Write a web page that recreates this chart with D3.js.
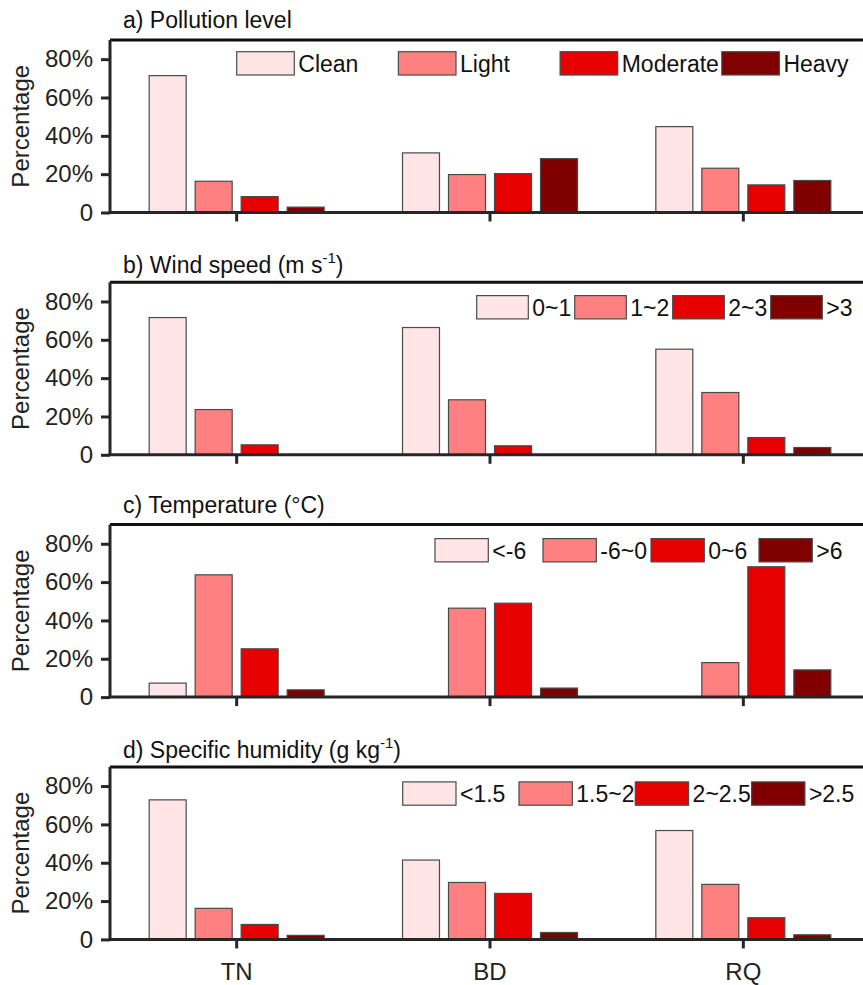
<!DOCTYPE html>
<html>
<head>
<meta charset="utf-8">
<script src="https://cdn.jsdelivr.net/npm/d3@7.9.0/dist/d3.min.js"></script>
<style>
  body { margin: 0; background: #fff; }
  svg { display: block; font-family: "Liberation Sans", Arial, Helvetica, sans-serif; }
</style>
</head>
<body>
<div id="chart"></div>
<script>
// stations on the x axis
const categories = ["TN", "BD", "RQ"];

// panel titles (superscript part kept apart)
const titles = [
  { text: "a) Pollution level", sup: null, tail: "" },
  { text: "b) Wind speed (m s", sup: "-1", tail: ")" },
  { text: "c) Temperature (\u00B0C)", sup: null, tail: "" },
  { text: "d) Specific humidity (g kg", sup: "-1", tail: ")" }
];

const pollutionLabels = ["Clean", "Light", "Moderate", "Heavy"];
const windLabels = ["0~1", "1~2", "2~3", ">3"];
const tempLabels = ["<-6", "-6~0", "0~6", ">6"];
const humidLabels = ["<1.5", "1.5~2", "2~2.5", ">2.5"];

// percentages, one row per station (TN, BD, RQ)
const pollution = [
  [71.4, 16.3, 8.3, 2.8],
  [31.1, 19.8, 20.3, 28.1],
  [44.8, 23.1, 14.4, 16.7]
];
const wind = [
  [71.6, 23.6, 5.2, 0],
  [66.4, 28.7, 4.7, 0],
  [55.1, 32.5, 9.0, 3.8]
];
const temperature = [
  [7.3, 63.8, 25.2, 3.8],
  [0, 46.4, 49.0, 4.7],
  [0, 18.0, 68.0, 14.2]
];
const humidity = [
  [72.8, 16.2, 7.8, 2.1],
  [41.4, 29.7, 24.0, 3.6],
  [56.8, 28.7, 11.3, 2.4]
];

const yTicks = [0, 20, 40, 60, 80];

const panels = [
  { title: titles[0], labels: pollutionLabels, values: pollution },
  { title: titles[1], labels: windLabels, values: wind },
  { title: titles[2], labels: tempLabels, values: temperature },
  { title: titles[3], labels: humidLabels, values: humidity }
];

const colors = ["#FFE5E5", "#FF8080", "#E60000", "#800000"];

const width = 863, height = 985;
const left = 110, right = 870;
const panelTop0 = 40, panelStep = 242.3, panelH = 172.5;
const axisColor = "#262626";
const fontSize = 23;

// legend placement per panel
const legendLeft = [236.7, 476.7, 435, 402.7];
const legendBoxW = [57.6, 51.6, 53.3, 53.3];
const legendStep = [161.7, 98, 108, 116.3];
const legendTop = [11.7, 13.3, 14, 15];
const legendBoxH = 23.3;
const titleGap = [12, 9, 12, 8.5];

const svg = d3.select("#chart").append("svg")
  .attr("width", width)
  .attr("height", height)
  .attr("viewBox", `0 0 ${width} ${height}`);

svg.append("rect").attr("width", width).attr("height", height).attr("fill", "#fff");

const xScale = d3.scaleBand().domain(categories).range([left, right]);
const subScale = d3.scaleBand()
  .domain(d3.range(4))
  .range([-92, 92])
  .paddingInner(0.196)
  .paddingOuter(0.098);

panels.forEach((p, i) => {
  const top = panelTop0 + i * panelStep;
  const bottom = top + panelH;
  const yScale = d3.scaleLinear().domain([0, 90]).range([bottom, top]);
  const g = svg.append("g");

  // bars
  const groups = g.append("g").selectAll("g")
    .data(categories)
    .join("g")
    .attr("transform", (d) => `translate(${xScale(d) + xScale.bandwidth() / 2},0)`);

  groups.selectAll("rect")
    .data((d, k) => p.values[k].map((v, s) => ({ v, s })).filter((e) => e.v > 0))
    .join("rect")
    .attr("x", (e) => subScale(e.s))
    .attr("width", subScale.bandwidth())
    .attr("y", (e) => yScale(e.v))
    .attr("height", (e) => yScale(0) - yScale(e.v))
    .attr("fill", (e) => colors[e.s])
    .attr("stroke", "#4a4a4a")
    .attr("stroke-width", 1.2);

  // box top / right
  g.append("path")
    .attr("d", `M${left},${top}H${right}V${bottom}`)
    .attr("fill", "none")
    .attr("stroke", "#111")
    .attr("stroke-width", 3);

  // y axis
  const yAxis = g.append("g")
    .attr("transform", `translate(${left},0)`)
    .call(d3.axisLeft(yScale).tickValues(yTicks).tickSize(9).tickSizeOuter(0).tickPadding(8)
      .tickFormat((d) => d === 0 ? "0" : d + "%"));

  // x axis
  const xAxis = g.append("g")
    .attr("transform", `translate(0,${bottom})`)
    .call(d3.axisBottom(xScale).tickSize(9).tickSizeOuter(0)
      .tickFormat(i === panels.length - 1 ? (d) => d : () => ""));

  [yAxis, xAxis].forEach((a) => {
    a.select(".domain").attr("stroke", axisColor).attr("stroke-width", 3);
    a.selectAll(".tick line").attr("stroke", axisColor).attr("stroke-width", 3);
    a.selectAll(".tick text").attr("fill", "#222").style("font-size", "24px");
  });
  yAxis.select(".domain").attr("d", `M0,${top}V${bottom}`);
  xAxis.select(".domain").attr("d", `M${left - 1.5},0H${right}`);
  xAxis.selectAll(".tick text").attr("y", 40.5).attr("dy", 0);

  // y label
  g.append("text")
    .attr("transform", `translate(${28.5},${(top + bottom) / 2}) rotate(-90)`)
    .attr("text-anchor", "middle")
    .attr("fill", "#222")
    .style("font-size", "24px")
    .text("Percentage");

  // title
  const t = g.append("text")
    .attr("x", 123)
    .attr("y", top - titleGap[i])
    .attr("fill", "#111")
    .style("font-size", fontSize + "px")
    .text(p.title.text);
  if (p.title.sup) {
    t.append("tspan").attr("dy", -10).style("font-size", "15px").text(p.title.sup);
    t.append("tspan").attr("dy", 10).text(p.title.tail);
  }

  // legend
  const legend = g.append("g")
    .attr("transform", `translate(${legendLeft[i]},${top + legendTop[i]})`);
  const items = legend.selectAll("g")
    .data(p.labels)
    .join("g")
    .attr("transform", (d, k) => `translate(${k * legendStep[i]},0)`);
  items.append("rect")
    .attr("width", legendBoxW[i])
    .attr("height", legendBoxH)
    .attr("fill", (d, k) => colors[k])
    .attr("stroke", "#4a4a4a")
    .attr("stroke-width", 1.2);
  items.append("text")
    .attr("x", legendBoxW[i] + 4)
    .attr("y", legendBoxH / 2)
    .attr("dy", "0.36em")
    .attr("fill", "#111")
    .style("font-size", fontSize + "px")
    .text((d) => d);
});
</script>
</body>
</html>
